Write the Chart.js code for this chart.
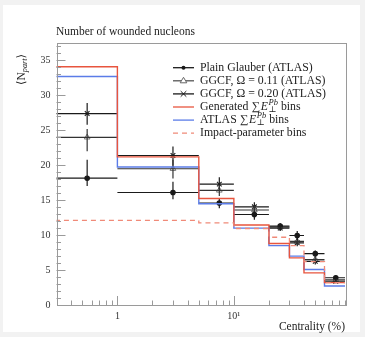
<!DOCTYPE html>
<html>
<head>
<meta charset="utf-8">
<script src="https://cdn.jsdelivr.net/npm/chart.js@4.4.1/dist/chart.umd.min.js"></script>
<style>
  html, body { margin: 0; padding: 0; background: #f2f2f2; }
  #wrap { position: absolute; left: 0; top: 0; width: 365px; height: 337px; }
</style>
</head>
<body>
<div id="wrap"><canvas id="chart" width="365" height="337"></canvas></div>
<script>
// centrality bins (%)
const binEdges = [0.1, 1, 5, 10, 20, 30, 40, 60, 90];
const binCenters = [0.55, 3, 7.5, 15, 25, 35, 50, 75];

// <N_part> per bin
const plainGlauber = [18.15, 16.1, 14.6, 12.95, 11.3, 9.95, 7.35, 3.9];
const plainLow = [17.05, 15.15, 13.85, 12.2, 10.7, 9.3, 6.9, 3.5];
const plainHigh = [20.8, 17.65, 15.3, 13.4, 11.7, 10.6, 7.8, 4.2];

const ggcf011 = [24.0, 19.5, 16.4, 13.6, 11.15, 9.1, 6.5, 3.6];
const ggcf011Low = [22.0, 18.1, 15.6, 13.0, 10.7, 8.6, 6.0, 3.3];
const ggcf011High = [25.2, 20.8, 17.1, 14.2, 11.6, 9.6, 6.9, 3.9];

const ggcf020 = [27.4, 21.4, 17.3, 14.05, 11.0, 8.9, 6.25, 3.4];
const ggcf020Low = [25.8, 20.0, 16.5, 13.4, 10.6, 8.4, 5.8, 3.1];
const ggcf020High = [28.9, 22.7, 18.3, 14.7, 11.5, 9.4, 6.7, 3.7];

const generatedBins = [34.1, 21.2, 15.25, 11.45, 8.8, 6.75, 4.6, 3.2];
const atlasBins = [32.7, 19.75, 14.5, 11.0, 8.5, 7.0, 5.08, 2.73];
const impactBins = [12.1, 12.1, 11.75, 10.95, 9.7, 8.5, 6.2, 3.2];

const xLabels = { 1: "1", 10: "10\u00b9" };

const SERIF = '"Liberation Serif", "DejaVu Serif", serif';
const RED = "#e8553e";
const BLUE = "#5b7ce8";
const SALMON = "#f08a78";
const INK = "#1a1a1a";

function steps(values) {
    const pts = values.map((v, i) => ({ x: binEdges[i], y: v }));
    pts.push({ x: binEdges[binEdges.length - 1], y: values[values.length - 1] });
    return pts;
}

function hBars(values) {
    const pts = [];
    values.forEach((v, i) => {
        pts.push({ x: binEdges[i], y: v }, { x: binEdges[i + 1], y: v }, { x: binEdges[i + 1], y: null });
    });
    return pts;
}

function vBars(low, high) {
    const pts = [];
    low.forEach((lo, i) => {
        pts.push({ x: binCenters[i], y: lo }, { x: binCenters[i], y: high[i] }, { x: binCenters[i], y: null });
    });
    return pts;
}

function markers(values) {
    return values.map((v, i) => ({ x: binCenters[i], y: v }));
}

function lineSet(data, color, extra) {
    return Object.assign({
        data: data,
        borderColor: color,
        borderWidth: 1.2,
        pointRadius: 0,
        spanGaps: false,
    }, extra || {});
}

function drawRich(ctx, x, y, parts, size) {
    parts.forEach(p => {
        const s = size * (p.scale || 1);
        ctx.font = (p.italic ? "italic " : "") + s + "px " + SERIF;
        ctx.fillText(p.t, x, y + (p.dy || 0));
        if (!p.stay) x += ctx.measureText(p.t).width + (p.gap || 0);
    });
    return x;
}

const sumE = [
    { t: "\u2211", gap: 1 },
    { t: "E", italic: true, gap: 0.5 },
    { t: "\u22a5", scale: 0.72, dy: 3, stay: true },
    { t: "Pb", italic: true, scale: 0.72, dy: -4.5 },
];

const legendRows = [
    { parts: [{ t: "Plain Glauber (ATLAS)" }], kind: "dot" },
    { parts: [{ t: "GGCF, \u03a9 = 0.11 (ATLAS)" }], kind: "tri" },
    { parts: [{ t: "GGCF, \u03a9 = 0.20 (ATLAS)" }], kind: "cross" },
    { parts: [{ t: "Generated " }].concat(sumE, [{ t: " bins" }]), kind: "red" },
    { parts: [{ t: "ATLAS " }].concat(sumE, [{ t: " bins" }]), kind: "blue" },
    { parts: [{ t: "Impact-parameter bins" }], kind: "dash" },
];

const decorPlugin = {
    id: "decor",
    beforeDraw(chart) {
        const ctx = chart.ctx;
        ctx.save();
        ctx.fillStyle = "#f2f2f2";
        ctx.fillRect(0, 0, chart.width, chart.height);
        ctx.fillStyle = "#ffffff";
        ctx.fillRect(3, 5, 357, 327);
        ctx.restore();
    },
    afterDraw(chart) {
        const ctx = chart.ctx;
        const a = chart.chartArea;
        const xs = chart.scales.x, ys = chart.scales.y;
        ctx.save();

        // frame
        ctx.strokeStyle = "#9a9a9a";
        ctx.lineWidth = 1;
        ctx.strokeRect(Math.round(a.left) + 0.5, Math.round(a.top) + 0.5,
            Math.round(a.right - a.left), Math.round(a.bottom - a.top));

        // inward ticks
        ctx.beginPath();
        for (let d = 0.1; d <= 10; d *= 10) {
            for (let k = 1; k <= 9; k++) {
                const v = k * d;
                if (v < xs.min || v > xs.max) continue;
                const px = Math.round(xs.getPixelForValue(v)) + 0.5;
                const len = k === 1 ? 9 : 4.5;
                ctx.moveTo(px, a.bottom);
                ctx.lineTo(px, a.bottom - len);
            }
        }
        for (let v = 1; v <= 37; v++) {
            const py = Math.round(ys.getPixelForValue(v)) + 0.5;
            const len = v % 5 === 0 ? 9 : 4.5;
            ctx.moveTo(a.left, py);
            ctx.lineTo(a.left + len, py);
        }
        ctx.stroke();

        // title
        ctx.fillStyle = "#222";
        ctx.textBaseline = "middle";
        ctx.textAlign = "left";
        ctx.font = "11.5px " + SERIF;
        ctx.fillText("Number of wounded nucleons", 56, 32);

        // y axis title
        ctx.save();
        ctx.translate(22, 66);
        ctx.rotate(-Math.PI / 2);
        ctx.textAlign = "left";
        drawRich(ctx, -19, 0, [
            { t: "\u27e8N" },
            { t: "part", italic: true, scale: 0.72, dy: 3 },
            { t: "\u27e9" },
        ], 11.5);
        ctx.restore();

        // legend
        const lx0 = 173, lx1 = 194, tx = 200;
        legendRows.forEach((row, i) => {
            const y = 67.7 + i * 13.1;
            ctx.save();
            ctx.lineWidth = 1.3;
            if (row.kind === "red" || row.kind === "blue" || row.kind === "dash") {
                ctx.strokeStyle = row.kind === "red" ? RED : row.kind === "blue" ? BLUE : SALMON;
                if (row.kind === "dash") ctx.setLineDash([5, 4]);
            } else {
                ctx.strokeStyle = row.kind === "tri" ? "#555" : INK;
            }
            ctx.beginPath();
            ctx.moveTo(lx0, y);
            ctx.lineTo(lx1, y);
            ctx.stroke();
            ctx.setLineDash([]);
            const cx = (lx0 + lx1) / 2;
            if (row.kind === "dot") {
                ctx.fillStyle = INK;
                ctx.beginPath(); ctx.arc(cx, y, 2, 0, Math.PI * 2); ctx.fill();
            } else if (row.kind === "tri") {
                ctx.fillStyle = "#fff";
                ctx.strokeStyle = "#666";
                ctx.lineWidth = 1;
                ctx.beginPath();
                ctx.moveTo(cx, y - 3.5); ctx.lineTo(cx + 3.3, y + 2); ctx.lineTo(cx - 3.3, y + 2); ctx.closePath();
                ctx.fill(); ctx.stroke();
            } else if (row.kind === "cross") {
                ctx.strokeStyle = INK;
                ctx.lineWidth = 1;
                ctx.beginPath();
                ctx.moveTo(cx - 2.8, y - 2.8); ctx.lineTo(cx + 2.8, y + 2.8);
                ctx.moveTo(cx + 2.8, y - 2.8); ctx.lineTo(cx - 2.8, y + 2.8);
                ctx.stroke();
            }
            ctx.restore();
            ctx.fillStyle = "#222";
            ctx.textBaseline = "middle";
            ctx.textAlign = "left";
            drawRich(ctx, tx, y, row.parts, 11.8);
        });

        ctx.restore();
    },
};

const datasets = [
    lineSet(steps(impactBins), SALMON, { stepped: true, borderWidth: 1.3, borderDash: [5, 4] }),
    lineSet(steps(generatedBins), RED, { stepped: true, borderWidth: 1.4 }),
    lineSet(steps(atlasBins), BLUE, { stepped: true, borderWidth: 1.4 }),

    lineSet(hBars(plainGlauber), INK),
    lineSet(vBars(plainLow, plainHigh), INK),
    lineSet(hBars(ggcf011), "#333"),
    lineSet(vBars(ggcf011Low, ggcf011High), "#333"),
    lineSet(hBars(ggcf020), INK),
    lineSet(vBars(ggcf020Low, ggcf020High), INK),

    lineSet(markers(plainGlauber), INK, {
        showLine: false, pointStyle: "circle", pointRadius: 2.2,
        pointBackgroundColor: INK, pointBorderColor: INK,
    }),
    lineSet(markers(ggcf011), "#666", {
        showLine: false, pointStyle: "triangle", pointRadius: 3.3,
        pointBackgroundColor: "#fff", pointBorderColor: "#777", pointBorderWidth: 1,
    }),
    lineSet(markers(ggcf020), INK, {
        showLine: false, pointStyle: "crossRot", pointRadius: 3.3,
        pointBorderColor: INK, pointBorderWidth: 1.1,
    }),
];

new Chart(document.getElementById("chart"), {
    type: "line",
    data: { datasets: datasets },
    options: {
        responsive: false,
        animation: false,
        events: [],
        layout: { padding: { left: 0, right: 20, top: 43, bottom: 0 } },
        plugins: {
            legend: { display: false },
            tooltip: { enabled: false },
        },
        scales: {
            x: {
                type: "logarithmic",
                min: 0.3,
                max: 90,
                grid: { display: false, drawTicks: false },
                border: { display: false },
                afterFit: scale => { scale.height = 32; },
                ticks: {
                    autoSkip: false,
                    maxRotation: 0,
                    padding: 5,
                    color: "#333",
                    font: { family: SERIF, size: 10 },
                    callback: value => {
                        for (const k in xLabels) {
                            if (Math.abs(value - k) < 1e-6) return xLabels[k];
                        }
                        return "";
                    },
                },
                title: {
                    display: true,
                    text: "Centrality (%)",
                    align: "end",
                    color: "#222",
                    font: { family: SERIF, size: 11.5 },
                    padding: { top: 0, bottom: 3 },
                },
            },
            y: {
                min: 0,
                max: 37.5,
                grid: { display: false, drawTicks: false },
                border: { display: false },
                afterFit: scale => { scale.width = 56.5; },
                ticks: {
                    stepSize: 5,
                    padding: 6,
                    color: "#333",
                    font: { family: SERIF, size: 10 },
                    callback: value => (value % 5 === 0 ? value : ""),
                },
            },
        },
    },
    plugins: [decorPlugin],
});
</script>
</body>
</html>
